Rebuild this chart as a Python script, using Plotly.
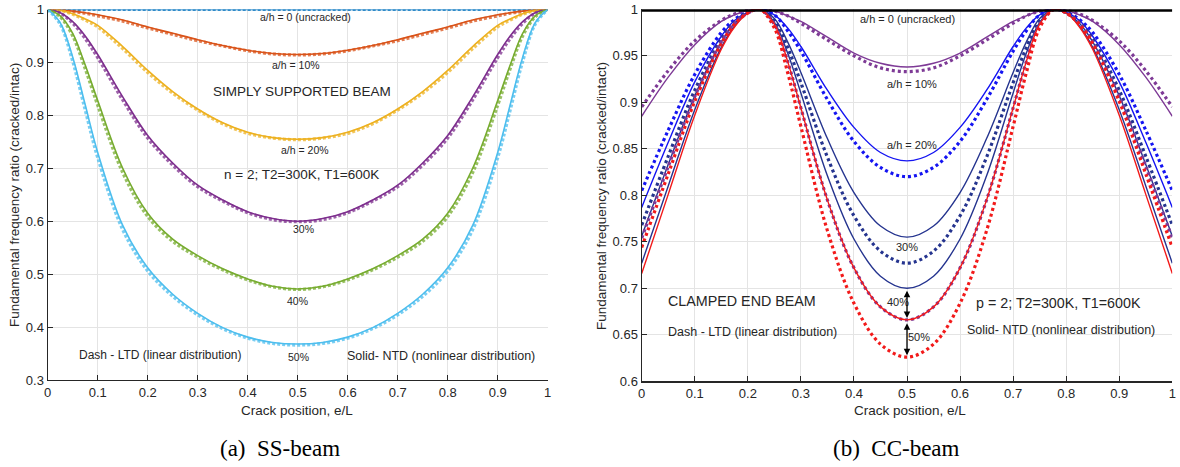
import plotly.graph_objects as go

# ---------------- data: (a) simply supported beam ----------------
crack_pos_ss = [0, 0.025, 0.05, 0.075, 0.1, 0.15, 0.2, 0.25, 0.3, 0.35, 0.4, 0.45, 0.5,
                0.55, 0.6, 0.65, 0.7, 0.75, 0.8, 0.85, 0.9, 0.925, 0.95, 0.975, 1]

ss_ah0_ntd = [1.0] * 25
ss_ah0_ltd = [1.0] * 25
ss_ah10_ntd = [1, 0.999, 0.997, 0.994, 0.990, 0.980, 0.967, 0.955, 0.943, 0.932, 0.923, 0.917, 0.915,
               0.917, 0.923, 0.932, 0.943, 0.955, 0.967, 0.980, 0.990, 0.994, 0.997, 0.999, 1]
ss_ah10_ltd = [1, 0.999, 0.996, 0.993, 0.988, 0.978, 0.965, 0.953, 0.941, 0.931, 0.922, 0.916, 0.914,
               0.916, 0.922, 0.931, 0.941, 0.953, 0.965, 0.978, 0.988, 0.993, 0.996, 0.999, 1]
ss_ah20_ntd = [1, 0.998, 0.992, 0.982, 0.970, 0.930, 0.885, 0.845, 0.812, 0.786, 0.768, 0.758, 0.755,
               0.758, 0.768, 0.786, 0.812, 0.845, 0.885, 0.930, 0.970, 0.982, 0.992, 0.998, 1]
ss_ah20_ltd = [1, 0.998, 0.991, 0.980, 0.967, 0.926, 0.881, 0.842, 0.810, 0.784, 0.766, 0.757, 0.754,
               0.757, 0.766, 0.784, 0.810, 0.842, 0.881, 0.926, 0.967, 0.980, 0.991, 0.998, 1]
ss_ah30_ntd = [1, 0.994, 0.977, 0.950, 0.915, 0.835, 0.762, 0.710, 0.668, 0.640, 0.618, 0.605, 0.600,
               0.605, 0.618, 0.640, 0.668, 0.710, 0.762, 0.835, 0.915, 0.950, 0.977, 0.994, 1]
ss_ah30_ltd = [1, 0.993, 0.974, 0.945, 0.909, 0.829, 0.757, 0.706, 0.665, 0.638, 0.616, 0.603, 0.599,
               0.603, 0.616, 0.638, 0.665, 0.706, 0.757, 0.829, 0.909, 0.945, 0.974, 0.993, 1]
ss_ah40_ntd = [1, 0.988, 0.955, 0.895, 0.828, 0.700, 0.615, 0.566, 0.535, 0.510, 0.491, 0.477, 0.472,
               0.477, 0.491, 0.510, 0.535, 0.566, 0.615, 0.700, 0.828, 0.895, 0.955, 0.988, 1]
ss_ah40_ltd = [1, 0.986, 0.950, 0.888, 0.819, 0.692, 0.609, 0.562, 0.532, 0.508, 0.489, 0.476, 0.471,
               0.476, 0.489, 0.508, 0.532, 0.562, 0.609, 0.692, 0.819, 0.888, 0.950, 0.986, 1]
ss_ah50_ntd = [1, 0.975, 0.910, 0.820, 0.730, 0.592, 0.512, 0.462, 0.426, 0.399, 0.381, 0.371, 0.368,
               0.371, 0.381, 0.399, 0.426, 0.462, 0.512, 0.592, 0.730, 0.820, 0.910, 0.975, 1]
ss_ah50_ltd = [1, 0.972, 0.902, 0.810, 0.720, 0.584, 0.506, 0.458, 0.423, 0.397, 0.379, 0.369, 0.366,
               0.369, 0.379, 0.397, 0.423, 0.458, 0.506, 0.584, 0.720, 0.810, 0.902, 0.972, 1]

# ---------------- data: (b) clamped-clamped beam ----------------
crack_pos_cc = [0, 0.05, 0.1, 0.15, 0.175, 0.2, 0.2225, 0.25, 0.275, 0.3, 0.35, 0.4, 0.45, 0.5,
                0.55, 0.6, 0.65, 0.7, 0.725, 0.75, 0.7775, 0.8, 0.825, 0.85, 0.9, 0.95, 1]

cc_ah0 = [1.0] * 27
cc_ah10_ntd = [0.885, 0.927, 0.962, 0.987, 0.994, 0.999, 1.0, 0.998, 0.993, 0.987, 0.970, 0.953, 0.942, 0.938,
               0.942, 0.953, 0.970, 0.987, 0.993, 0.998, 1.0, 0.999, 0.994, 0.987, 0.962, 0.927, 0.885]
cc_ah10_ltd = [0.895, 0.934, 0.966, 0.988, 0.995, 0.999, 1.0, 0.998, 0.993, 0.985, 0.967, 0.950, 0.937, 0.933,
               0.937, 0.950, 0.967, 0.985, 0.993, 0.998, 1.0, 0.999, 0.995, 0.988, 0.966, 0.934, 0.895]
cc_ah20_ntd = [0.787, 0.857, 0.922, 0.971, 0.988, 0.997, 1.0, 0.994, 0.980, 0.960, 0.913, 0.873, 0.846, 0.837,
               0.846, 0.873, 0.913, 0.960, 0.980, 0.994, 1.0, 0.997, 0.988, 0.971, 0.922, 0.857, 0.787]
cc_ah20_ltd = [0.805, 0.870, 0.930, 0.975, 0.989, 0.997, 1.0, 0.994, 0.977, 0.955, 0.903, 0.858, 0.830, 0.820,
               0.830, 0.858, 0.903, 0.955, 0.977, 0.994, 1.0, 0.997, 0.989, 0.975, 0.930, 0.870, 0.805]
cc_ah30_ntd = [0.756, 0.833, 0.907, 0.965, 0.985, 0.996, 1.0, 0.990, 0.965, 0.932, 0.861, 0.803, 0.767, 0.755,
               0.767, 0.803, 0.861, 0.932, 0.965, 0.990, 1.0, 0.996, 0.985, 0.965, 0.907, 0.833, 0.756]
cc_ah30_ltd = [0.768, 0.842, 0.913, 0.968, 0.986, 0.997, 1.0, 0.988, 0.959, 0.921, 0.841, 0.778, 0.740, 0.727,
               0.740, 0.778, 0.841, 0.921, 0.959, 0.988, 1.0, 0.997, 0.986, 0.968, 0.913, 0.842, 0.768]
cc_ah40_ntd = [0.727, 0.810, 0.892, 0.959, 0.982, 0.996, 1.0, 0.986, 0.953, 0.910, 0.821, 0.753, 0.713, 0.700,
               0.713, 0.753, 0.821, 0.910, 0.953, 0.986, 1.0, 0.996, 0.982, 0.959, 0.892, 0.810, 0.727]
cc_ah40_ltd = [0.754, 0.831, 0.906, 0.965, 0.985, 0.996, 1.0, 0.984, 0.944, 0.894, 0.795, 0.722, 0.680, 0.666,
               0.680, 0.722, 0.795, 0.894, 0.944, 0.984, 1.0, 0.996, 0.985, 0.965, 0.906, 0.831, 0.754]
cc_ah50_ntd = [0.716, 0.801, 0.886, 0.957, 0.981, 0.996, 1.0, 0.984, 0.944, 0.894, 0.795, 0.722, 0.680, 0.666,
               0.680, 0.722, 0.795, 0.894, 0.944, 0.984, 1.0, 0.996, 0.981, 0.957, 0.886, 0.801, 0.716]
cc_ah50_ltd = [0.744, 0.823, 0.901, 0.963, 0.984, 0.996, 1.0, 0.980, 0.932, 0.874, 0.762, 0.684, 0.640, 0.626,
               0.640, 0.684, 0.762, 0.874, 0.932, 0.980, 1.0, 0.996, 0.984, 0.963, 0.901, 0.823, 0.744]

x_ticks = [0, 0.1, 0.2, 0.3, 0.4, 0.5, 0.6, 0.7, 0.8, 0.9, 1]
x_tick_labels = ["0", "0.1", "0.2", "0.3", "0.4", "0.5", "0.6", "0.7", "0.8", "0.9", "1"]
ss_y_ticks = [0.3, 0.4, 0.5, 0.6, 0.7, 0.8, 0.9, 1]
ss_y_tick_labels = ["0.3", "0.4", "0.5", "0.6", "0.7", "0.8", "0.9", "1"]
cc_y_ticks = [0.6, 0.65, 0.7, 0.75, 0.8, 0.85, 0.9, 0.95, 1]
cc_y_tick_labels = ["0.6", "0.65", "0.7", "0.75", "0.8", "0.85", "0.9", "0.95", "1"]

# ---------------- figure ----------------
W, H = 1180, 467
FONT = "Liberation Sans, Arial, sans-serif"
TXT = "#262626"


def fx(px):
    return px / W


def fy(py):
    return 1 - py / H


fig = go.Figure()

ss_series = [
    (ss_ah0_ltd, ss_ah0_ntd, "#0072BD", "a/h = 0"),
    (ss_ah10_ltd, ss_ah10_ntd, "#D95319", "a/h = 10%"),
    (ss_ah20_ltd, ss_ah20_ntd, "#EDB120", "a/h = 20%"),
    (ss_ah30_ltd, ss_ah30_ntd, "#7E2F8E", "a/h = 30%"),
    (ss_ah40_ltd, ss_ah40_ntd, "#77AC30", "a/h = 40%"),
    (ss_ah50_ltd, ss_ah50_ntd, "#4DBEEE", "a/h = 50%"),
]
for ltd, ntd, col, name in ss_series:
    fig.add_trace(go.Scatter(x=crack_pos_ss, y=ltd, mode="lines", name=name + " LTD",
                             line=dict(color=col, width=3.2, dash="3px,2px", shape="spline"),
                             opacity=0.75, xaxis="x", yaxis="y", showlegend=False))
    fig.add_trace(go.Scatter(x=crack_pos_ss, y=ntd, mode="lines", name=name + " NTD",
                             line=dict(color=col, width=1.6, shape="spline"),
                             xaxis="x", yaxis="y", showlegend=False))

PURPLE = "#7E3A96"
BLUE = "#1414F2"
NAVY = "#25348F"
RED = "#F21A1A"
cc_series = [
    (cc_ah10_ntd, PURPLE, "solid", "a/h = 10% NTD"),
    (cc_ah10_ltd, PURPLE, "dot", "a/h = 10% LTD"),
    (cc_ah20_ntd, BLUE, "solid", "a/h = 20% NTD"),
    (cc_ah20_ltd, BLUE, "dot", "a/h = 20% LTD"),
    (cc_ah30_ntd, NAVY, "solid", "a/h = 30% NTD"),
    (cc_ah30_ltd, NAVY, "dot", "a/h = 30% LTD"),
    (cc_ah40_ntd, NAVY, "solid", "a/h = 40% NTD"),
    (cc_ah40_ltd, PURPLE, "dot", "a/h = 40% LTD"),
    (cc_ah50_ntd, RED, "solid", "a/h = 50% NTD"),
    (cc_ah50_ltd, RED, "dot", "a/h = 50% LTD"),
]
for vals, col, dash, name in cc_series:
    if dash == "dot":
        ln = dict(color=col, width=3.2, dash="3px,3px", shape="spline")
    else:
        ln = dict(color=col, width=1.4, shape="spline")
    fig.add_trace(go.Scatter(x=crack_pos_cc, y=vals, mode="lines", name=name, line=ln,
                             xaxis="x2", yaxis="y2", showlegend=False))
fig.add_trace(go.Scatter(x=crack_pos_cc, y=cc_ah0, mode="lines", name="a/h = 0",
                         line=dict(color="black", width=5), xaxis="x2", yaxis="y2", showlegend=False))

axis_common = dict(showgrid=True, gridcolor="#E4E4E4", gridwidth=1, zeroline=False,
                   showline=True, linecolor="#262626", linewidth=1.2,
                   ticks="inside", ticklen=5, tickwidth=1, tickcolor="#262626",
                   tickfont=dict(family=FONT, size=13, color=TXT), mirror=False,
                   automargin=False, ticklabeloverflow="allow")

fig.update_layout(
    width=W, height=H,
    margin=dict(l=0, r=0, t=0, b=0, pad=0),
    paper_bgcolor="white", plot_bgcolor="white",
    showlegend=False,
    font=dict(family=FONT, color=TXT),
    xaxis=dict(domain=[fx(47.7), fx(547.7)], anchor="y", range=[0, 1],
               tickvals=x_ticks, ticktext=x_tick_labels, **axis_common),
    yaxis=dict(domain=[fy(380), fy(9.5)], anchor="x", range=[0.3, 1],
               tickvals=ss_y_ticks, ticktext=ss_y_tick_labels, **axis_common),
    xaxis2=dict(domain=[fx(641.7), fx(1172.3)], anchor="y2", range=[0, 1],
                tickvals=x_ticks, ticktext=x_tick_labels, **axis_common),
    yaxis2=dict(domain=[fy(381.3), fy(9.3)], anchor="x2", range=[0.6, 1],
                tickvals=cc_y_ticks, ticktext=cc_y_tick_labels, **axis_common),
)

ann = []


def label(text, x, y, size, xr="x", yr="y"):
    ann.append(dict(text=text, x=x, y=y, xref=xr, yref=yr, showarrow=False,
                    xanchor="center", yanchor="middle",
                    font=dict(family=FONT, size=size, color=TXT)))


# left panel labels
label("a/h = 0 (uncracked)", 0.515, 0.986, 10.5)
label("a/h = 10%", 0.497, 0.895, 10.5)
label("SIMPLY SUPPORTED BEAM", 0.509, 0.846, 13.5)
label("a/h = 20%", 0.515, 0.734, 10.5)
label("n = 2; T2=300K, T1=600K", 0.507, 0.689, 13.5)
label("30%", 0.511, 0.585, 10.5)
label("40%", 0.499, 0.449, 10.5)
label("50%", 0.501, 0.343, 10.5)
label("Dash - LTD (linear distribution)", 0.225, 0.347, 12)
label("Solid- NTD (nonlinear distribution)", 0.787, 0.345, 12.5)

# right panel labels
label("a/h = 0 (uncracked)", 0.500, 0.9896, 11, "x2", "y2")
label("a/h = 10%", 0.509, 0.9197, 11, "x2", "y2")
label("a/h = 20%", 0.509, 0.854, 11, "x2", "y2")
label("30%", 0.500, 0.7444, 11, "x2", "y2")
label("40%", 0.483, 0.685, 11, "x2", "y2")
label("50%", 0.522, 0.6476, 11, "x2", "y2")
label("CLAMPED END BEAM", 0.189, 0.686, 14.3, "x2", "y2")
label("Dash - LTD (linear distribution)", 0.208, 0.653, 12.5, "x2", "y2")
label("p = 2; T2=300K, T1=600K", 0.785, 0.684, 14.3, "x2", "y2")
label("Solid- NTD (nonlinear distribution)", 0.790, 0.655, 12.5, "x2", "y2")

# double-headed arrows
for (y0, y1) in [(0.699, 0.668), (0.664, 0.628)]:
    ann.append(dict(x=0.5, y=y1, ax=0.5, ay=y0, xref="x2", yref="y2", axref="x2", ayref="y2",
                    text="", showarrow=True, arrowhead=2, arrowside="end+start",
                    arrowsize=1, arrowwidth=1.3, arrowcolor="black", standoff=0, startstandoff=0))


# axis titles and captions (paper coords)
def paper(text, px, py, size, fam=FONT, angle=0):
    ann.append(dict(text=text, x=fx(px), y=fy(py), xref="paper", yref="paper",
                    showarrow=False, xanchor="center", yanchor="middle", textangle=angle,
                    font=dict(family=fam, size=size, color=TXT if fam == FONT else "black")))


paper("Crack position, e/L", 297, 410, 13.5)
paper("Crack position, e/L", 910, 410, 13.5)
paper("Fundamental frequency ratio (cracked/intac)", 14, 195, 13.5, angle=-90)
paper("Fundamental frequency ratio (cracked/intact)", 601, 196, 13.5, angle=-90)
SERIF = "Liberation Serif, Times New Roman, serif"
paper("(a)  SS-beam", 280, 448, 23, fam=SERIF)
paper("(b)  CC-beam", 896, 448, 23, fam=SERIF)

fig.update_layout(annotations=ann)
fig.write_html("out.html",
               config={"displayModeBar": False, "staticPlot": True},
               post_script="document.body.style.margin='0px';document.body.style.overflow='hidden';")
